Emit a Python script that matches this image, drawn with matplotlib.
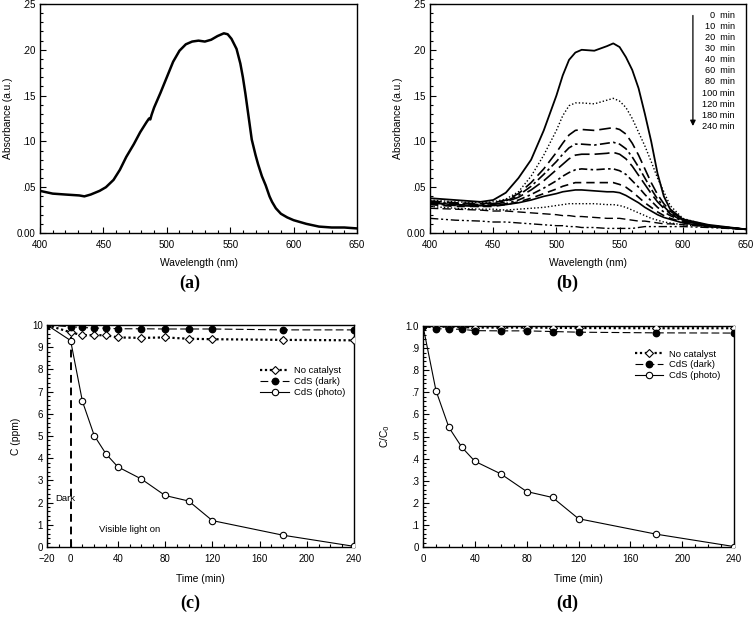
import matplotlib
matplotlib.use('Agg')
import matplotlib.pyplot as plt
from matplotlib.ticker import MultipleLocator, FixedLocator, FixedFormatter

plt.rcParams['font.family'] = ['Liberation Sans', 'DejaVu Sans']

# ---------------- Panel (a) data ----------------
wl_a = [400, 410, 420, 431, 435, 440, 447, 452, 458, 463, 468, 474, 479, 484, 486, 487, 488, 490,
        495, 500, 505, 510, 515, 520, 525, 530, 535, 540, 545, 548, 551, 555, 558, 560, 562, 565,
        567, 570, 572, 575, 578, 581, 583, 586, 590, 595, 600, 610, 620, 630, 640, 650]
abs_a = [0.046, 0.043, 0.042, 0.041, 0.040, 0.042, 0.046, 0.050, 0.058, 0.069, 0.083, 0.097, 0.110,
         0.121, 0.125, 0.124, 0.129, 0.137, 0.153, 0.170, 0.187, 0.199, 0.206, 0.209, 0.210, 0.209,
         0.211, 0.215, 0.218, 0.217, 0.212, 0.201, 0.185, 0.170, 0.152, 0.122, 0.102, 0.085, 0.075,
         0.062, 0.052, 0.040, 0.034, 0.027, 0.021, 0.017, 0.014, 0.010, 0.007, 0.006, 0.006, 0.005]

# ---------------- Panel (b) data ----------------
wl_b = [400, 420, 440, 450, 460, 470, 480, 490, 500, 505, 510, 515, 520, 530, 540, 545, 550,
        555, 560, 565, 570, 575, 580, 585, 590, 600, 620, 650]
b_times = ['0  min', '10  min', '20  min', '30  min', '40  min', '60  min', '80  min',
           '100 min', '120 min', '180 min', '240 min']
b_curves = [
    [.038, .036, .034, .036, .044, .060, .080, .112, .150, .172, .189, .197, .200, .199, .204, .207, .203, .192, .178, .158, .130, .100, .065, .040, .026, .015, .009, .004],
    [.036, .034, .033, .034, .037, .045, .062, .085, .112, .128, .139, .142, .142, .141, .145, .147, .144, .137, .125, .110, .095, .078, .060, .045, .030, .016, .008, .004],
    [.035, .033, .032, .033, .036, .043, .055, .070, .088, .098, .107, .112, .113, .112, .114, .115, .113, .108, .098, .085, .070, .055, .042, .032, .024, .014, .008, .004],
    [.034, .032, .031, .032, .035, .041, .051, .064, .078, .086, .093, .097, .097, .096, .098, .099, .097, .092, .083, .072, .060, .048, .037, .029, .022, .014, .008, .004],
    [.033, .031, .030, .031, .034, .039, .047, .057, .069, .075, .081, .085, .086, .086, .087, .088, .086, .081, .073, .063, .053, .043, .034, .027, .021, .013, .008, .004],
    [.032, .030, .029, .030, .032, .036, .042, .049, .057, .062, .066, .069, .070, .069, .070, .070, .068, .064, .057, .050, .042, .035, .028, .023, .019, .013, .008, .004],
    [.031, .029, .029, .029, .031, .034, .038, .043, .048, .051, .053, .055, .055, .055, .055, .055, .053, .050, .045, .039, .033, .028, .023, .019, .016, .012, .008, .004],
    [.033, .031, .030, .030, .031, .033, .036, .040, .043, .045, .046, .047, .047, .046, .045, .045, .044, .041, .037, .033, .028, .024, .020, .017, .015, .011, .007, .004],
    [.029, .027, .026, .026, .025, .026, .027, .028, .030, .031, .032, .032, .032, .032, .031, .031, .030, .028, .025, .022, .019, .016, .014, .012, .011, .009, .007, .004],
    [.027, .026, .025, .024, .024, .023, .022, .021, .020, .019, .019, .018, .018, .017, .016, .016, .016, .015, .014, .013, .013, .012, .011, .010, .010, .009, .007, .004],
    [.016, .014, .013, .012, .012, .011, .010, .009, .008, .008, .007, .007, .006, .006, .005, .005, .005, .005, .005, .006, .007, .007, .007, .007, .007, .007, .006, .004],
]

abs_ticks = [0.0, 0.05, 0.10, 0.15, 0.20, 0.25]
abs_ticklabels = ['0.00', '.05', '.10', '.15', '.20', '.25']
wl_ticks = [400, 450, 500, 550, 600, 650]

# ---------------- Panel (c) data ----------------
time_c = [-20, 0, 10, 20, 30, 40, 60, 80, 100, 120, 180, 240]
c_nocat = [10.0, 9.67, 9.54, 9.54, 9.54, 9.44, 9.42, 9.44, 9.38, 9.36, 9.33, 9.31]
c_dark = [10.0, 9.92, 9.89, 9.86, 9.86, 9.83, 9.83, 9.82, 9.82, 9.82, 9.78, 9.78]
c_photo = [10.0, 9.30, 6.56, 5.02, 4.19, 3.61, 3.06, 2.32, 2.07, 1.19, 0.53, 0.03]
c_xticks = [-20, 0, 40, 80, 120, 160, 200, 240]
c_yticks = [0, 1, 2, 3, 4, 5, 6, 7, 8, 9, 10]

# ---------------- Panel (d) data ----------------
time_d = [0, 10, 20, 30, 40, 60, 80, 100, 120, 180, 240]
d_nocat = [1.0, 0.998, 0.996, 0.995, 0.993, 0.993, 0.993, 0.992, 0.991, 0.990, 0.990]
d_dark = [1.0, 0.988, 0.986, 0.985, 0.979, 0.978, 0.978, 0.975, 0.972, 0.969, 0.968]
d_photo = [1.0, 0.708, 0.541, 0.451, 0.388, 0.331, 0.251, 0.224, 0.128, 0.058, 0.002]
d_xticks = [0, 40, 80, 120, 160, 200, 240]
d_yticks = [0, 0.1, 0.2, 0.3, 0.4, 0.5, 0.6, 0.7, 0.8, 0.9, 1.0]
d_yticklabels = ['0', '.1', '.2', '.3', '.4', '.5', '.6', '.7', '.8', '.9', '1.0']

legend_labels = ['No catalyst', 'CdS (dark)', 'CdS (photo)']

W, H = 756, 619
TICK_FS = 7.0
LAB_FS = 7.4


def px_axes(l, t, r, b):
    return fig.add_axes([l / W, 1 - b / H, (r - l) / W, (b - t) / H])


def style(ax, xminor, yminor):
    for s in ax.spines.values():
        s.set_linewidth(1.0)
    ax.xaxis.set_minor_locator(MultipleLocator(xminor))
    ax.yaxis.set_minor_locator(MultipleLocator(yminor))
    ax.tick_params(which='both', direction='in', top=False, right=False,
                   labelsize=TICK_FS, width=0.8)
    ax.tick_params(axis='x', which='both', pad=5)
    ax.tick_params(axis='y', which='both', pad=3)
    ax.tick_params(which='major', length=4)
    ax.tick_params(which='minor', length=2.5)


fig = plt.figure(figsize=(W / 100, H / 100), dpi=100)

# ---- (a)
axA = px_axes(40, 4, 357, 233)
axA.plot(wl_a, abs_a, color='black', lw=1.8)
axA.set_xlim(400, 650)
axA.set_ylim(0, 0.25)
axA.xaxis.set_major_locator(FixedLocator(wl_ticks))
axA.yaxis.set_major_locator(FixedLocator(abs_ticks))
axA.yaxis.set_major_formatter(FixedFormatter(abs_ticklabels))
style(axA, 10, 0.01)
axA.set_xlabel('Wavelength (nm)', fontsize=LAB_FS, labelpad=6)
axA.set_ylabel('Absorbance (a.u.)', fontsize=LAB_FS, labelpad=3)

# ---- (b)
axB = px_axes(430, 4, 746, 233)
b_styles = ['-', (0, (1, 1.5)), (0, (7, 3)), (0, (6, 2, 1.5, 2)), (0, (9, 3)),
            (0, (5, 2, 1.5, 2)), (0, (5, 3)), '-', (0, (1, 1.5)), (0, (6, 3)),
            (0, (6, 2, 1.5, 2, 1.5, 2))]
b_widths = [1.3, 1.0, 1.2, 1.2, 1.2, 1.2, 1.2, 1.2, 1.0, 1.0, 1.0]
for vals, ls, lw in zip(b_curves, b_styles, b_widths):
    axB.plot(wl_b, vals, color='black', lw=lw, linestyle=ls)
axB.set_xlim(400, 650)
axB.set_ylim(0, 0.25)
axB.xaxis.set_major_locator(FixedLocator(wl_ticks))
axB.yaxis.set_major_locator(FixedLocator(abs_ticks))
axB.yaxis.set_major_formatter(FixedFormatter(abs_ticklabels))
style(axB, 10, 0.01)
axB.set_xlabel('Wavelength (nm)', fontsize=LAB_FS, labelpad=6)
axB.set_ylabel('Absorbance (a.u.)', fontsize=LAB_FS, labelpad=3)
n = len(b_times)
y_top, y_bot = 0.948, 0.467
for i, lab in enumerate(b_times):
    yy = y_top - i * (y_top - y_bot) / (n - 1)
    axB.text(0.965, yy, lab, transform=axB.transAxes, ha='right', va='center', fontsize=6.6)
axB.annotate('', xy=(0.832, 0.455), xytext=(0.832, 0.962), xycoords='axes fraction',
             arrowprops=dict(arrowstyle='-|>', color='black', lw=0.9, mutation_scale=8))

# ---- (c)
axC = px_axes(47, 325, 354, 547)
axC.plot([0, 0], [0, 9.6], color='black', lw=1.4, linestyle=(0, (4, 2.5)), zorder=2)
axC.plot(time_c, c_photo, color='black', lw=0.8, marker='o', ms=4.6, mfc='white', mec='black',
         mew=0.8, label=legend_labels[2], zorder=3)
axC.plot(time_c, c_nocat, color='black', lw=1.6, linestyle=(0, (1, 1.2)), marker='D', ms=4.0,
         mfc='white', mec='black', mew=0.8, label=legend_labels[0], zorder=4)
axC.plot(time_c, c_dark, color='black', lw=0.8, linestyle=(0, (7, 3)), marker='o', ms=4.6,
         mfc='black', mec='black', label=legend_labels[1], zorder=5)
axC.set_xlim(-20, 240)
axC.set_ylim(0, 10)
axC.xaxis.set_major_locator(FixedLocator(c_xticks))
axC.yaxis.set_major_locator(FixedLocator(c_yticks))
style(axC, 10, 0.2)
axC.set_xlabel('Time (min)', fontsize=LAB_FS, labelpad=7)
axC.set_ylabel('C (ppm)', fontsize=LAB_FS, labelpad=8)
axC.text(-13, 2.2, 'Dark', fontsize=6.8, va='center', ha='left')
axC.text(24, 0.8, 'Visible light on', fontsize=6.8, va='center', ha='left')
h, l = axC.get_legend_handles_labels()
order = [1, 2, 0]
axC.legend([h[i] for i in order], [l[i] for i in order], loc='upper left',
           bbox_to_anchor=(0.68, 0.835), frameon=False, fontsize=6.8, handlelength=3.0,
           handletextpad=0.6, labelspacing=0.2, borderpad=0)

# ---- (d)
axD = px_axes(423, 326, 734, 547)
axD.plot(time_d, d_photo, color='black', lw=0.8, marker='o', ms=4.6, mfc='white', mec='black',
         mew=0.8, label=legend_labels[2], zorder=3)
axD.plot(time_d, d_nocat, color='black', lw=1.6, linestyle=(0, (1, 1.2)), marker='D', ms=4.0,
         mfc='white', mec='black', mew=0.8, label=legend_labels[0], zorder=4)
axD.plot(time_d, d_dark, color='black', lw=0.8, linestyle=(0, (7, 3)), marker='o', ms=4.6,
         mfc='black', mec='black', label=legend_labels[1], zorder=5)
axD.set_xlim(0, 240)
axD.set_ylim(0, 1.0)
axD.xaxis.set_major_locator(FixedLocator(d_xticks))
axD.yaxis.set_major_locator(FixedLocator(d_yticks))
axD.yaxis.set_major_formatter(FixedFormatter(d_yticklabels))
style(axD, 10, 0.02)
axD.set_xlabel('Time (min)', fontsize=LAB_FS, labelpad=7)
axD.set_ylabel('C/C$_0$', fontsize=LAB_FS, labelpad=10)
h, l = axD.get_legend_handles_labels()
axD.legend([h[i] for i in order], [l[i] for i in order], loc='upper left',
           bbox_to_anchor=(0.665, 0.915), frameon=False, fontsize=6.8, handlelength=3.0,
           handletextpad=0.6, labelspacing=0.2, borderpad=0)

# panel labels
for lab, x, y in [('(a)', 190, 283), ('(b)', 567, 283), ('(c)', 190, 603), ('(d)', 567, 603)]:
    fig.text(x / W, 1 - y / H, lab, ha='center', va='center', fontsize=13, fontweight='bold',
             family=['Liberation Serif', 'DejaVu Serif'])

fig.savefig('out.png', dpi=100)
